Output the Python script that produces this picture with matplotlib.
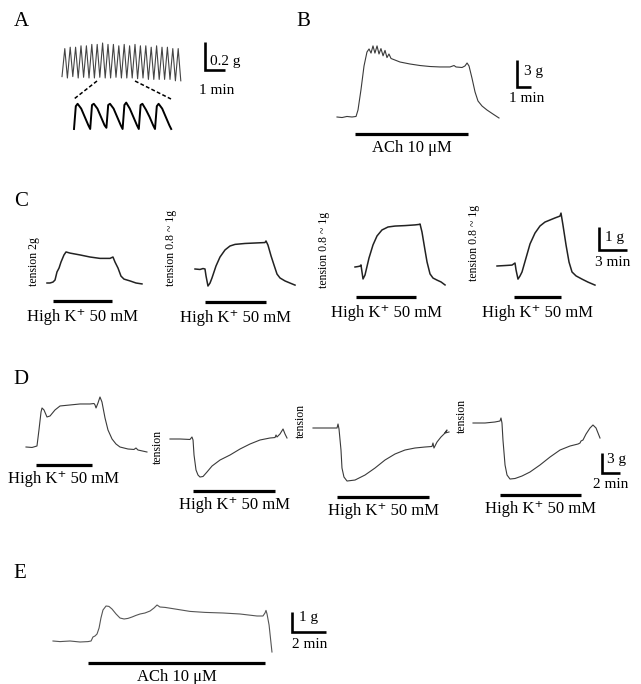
import matplotlib
matplotlib.use('Agg')
import matplotlib.pyplot as plt

plt.rcParams['font.family'] = ['Liberation Serif', 'DejaVu Serif']

# ---- trace data: time (min) and tension (g, relative to baseline) ----
# A: spontaneous contractions, full record and expanded view
a_top_t = [0, 0.14, 0.27, 0.41, 0.54, 0.68, 0.81, 0.95, 1.08, 1.22, 1.35, 1.49, 1.62, 1.76,
           1.89, 2.03, 2.16, 2.30, 2.43, 2.57, 2.70, 2.84, 2.97, 3.11, 3.24, 3.38, 3.51, 3.65,
           3.78, 3.92, 4.05, 4.19, 4.32, 4.46, 4.59, 4.73, 4.86, 5.00, 5.13, 5.27, 5.40, 5.54,
           5.67, 5.81, 5.94]
a_top_g = [0.01, 0.21, 0.0, 0.22, 0.01, 0.22, 0.0, 0.23, 0.005, 0.23, 0.0, 0.24, 0.0, 0.24,
           0.005, 0.25, 0.0, 0.24, 0.0, 0.24, 0.005, 0.23, 0.0, 0.24, 0.0, 0.23, 0.0, 0.24,
           -0.005, 0.23, 0.0, 0.23, -0.01, 0.22, -0.01, 0.23, -0.01, 0.22, -0.01, 0.22,
           -0.01, 0.21, -0.02, 0.21, -0.02]
a_zoom_t = [0.00, 0.03, 0.06, 0.12, 0.18, 0.24, 0.27, 0.30, 0.33, 0.39, 0.45, 0.51,
            0.54, 0.57, 0.60, 0.66, 0.72, 0.78, 0.81, 0.84, 0.87, 0.93, 0.99, 1.05,
            1.08, 1.11, 1.14, 1.20, 1.26, 1.32, 1.35, 1.38, 1.41, 1.47, 1.53, 1.59, 1.62]
a_zoom_g = [0.00, 0.19, 0.21, 0.17, 0.10, 0.03, 0.00, 0.20, 0.21, 0.17, 0.10, 0.03,
            0.01, 0.20, 0.21, 0.17, 0.10, 0.03, 0.00, 0.20, 0.22, 0.17, 0.10, 0.03,
            0.00, 0.20, 0.21, 0.16, 0.10, 0.03, 0.00, 0.19, 0.21, 0.17, 0.10, 0.03, 0.00]

# B: ACh 10 uM
b_t = [0, 0.36, 0.71, 1.07, 1.36, 1.5, 1.71, 1.93, 2.14, 2.29, 2.43, 2.57, 2.71, 2.86, 3.0,
       3.14, 3.29, 3.43, 3.57, 3.71, 3.86, 4.14, 4.5, 5.21, 5.93, 6.64, 7.36, 8.07, 8.36,
       8.5, 8.93, 9.14, 9.29, 9.43, 9.64, 9.86, 10.07, 10.36, 10.71, 11.14, 11.57]
b_g = [0, -0.06, 0.06, 0, 0.06, 0.78, 3.0, 5.67, 7.22, 7.56, 7.1, 7.9, 7.1, 7.9, 7.0,
       7.6, 6.8, 7.4, 6.6, 7.0, 6.5, 6.33, 6.11, 5.89, 5.72, 5.61, 5.56, 5.56, 5.72,
       5.56, 5.5, 5.67, 6.0, 5.67, 4.33, 2.78, 1.78, 1.22, 0.78, 0.33, -0.11]
b_drug = (1.29, 9.36)

# C: high K+ 50 mM, four preparations
c1_t = [0, 0.32, 0.64, 0.86, 1.07, 1.29, 1.50, 1.82, 2.04, 2.47, 3.54, 4.61, 5.68, 6.75,
        7.07, 7.29, 7.61, 7.93, 8.25, 8.90, 9.54, 10.18]
c1_g = [0, 0, 0.04, 0.13, 0.48, 0.65, 0.91, 1.22, 1.35, 1.30, 1.22, 1.13, 1.07, 1.07,
        1.13, 0.91, 0.65, 0.30, 0.17, 0.09, 0, -0.04]
c2_t = [0, 0.54, 0.86, 1.07, 1.18, 1.39, 1.61, 1.82, 2.25, 2.68, 3.22, 3.75, 4.29, 5.36,
        6.43, 7.50, 7.61, 7.82, 8.15, 8.47, 8.79, 9.11, 9.65, 10.18, 10.72]
c2_g = [0, -0.02, 0.02, 0, -0.30, -0.74, -0.61, -0.39, 0.13, 0.52, 0.83, 1.0, 1.07, 1.11,
        1.13, 1.15, 1.22, 1.04, 0.57, 0.17, -0.22, -0.39, -0.52, -0.61, -0.70]
c3_t = [0, 0.32, 0.54, 0.64, 0.75, 0.86, 1.07, 1.50, 1.93, 2.36, 2.89, 3.54, 4.29, 5.36,
        6.43, 6.86, 6.97, 7.18, 7.50, 7.72, 8.04, 8.36, 8.79, 9.22, 9.65]
c3_g = [0, 0.02, 0.04, 0.09, -0.22, -0.52, -0.35, 0.39, 0.96, 1.35, 1.61, 1.74, 1.78, 1.80,
        1.83, 1.85, 1.87, 1.52, 0.74, 0.22, -0.30, -0.48, -0.57, -0.65, -0.78]
c4_t = [0, 0.86, 1.61, 1.93, 2.04, 2.25, 2.47, 2.68, 3.11, 3.54, 4.07, 4.61, 5.14, 5.68,
        6.22, 6.75, 6.86, 7.07, 7.40, 7.72, 8.04, 8.47, 9.11, 9.75, 10.50]
c4_g = [0, 0.02, 0.04, 0.13, -0.17, -0.57, -0.43, -0.26, 0.35, 0.96, 1.43, 1.74, 1.91, 2.0,
        2.09, 2.17, 2.30, 1.78, 0.91, 0.17, -0.26, -0.43, -0.57, -0.70, -0.83]
c_drug = [(0.64, 6.97), (1.07, 7.61), (0.11, 6.54), (1.82, 6.86)]
c_labels = ['tension 2g', 'tension 0.8 ~ 1g', 'tension 0.8 ~ 1g', 'tension 0.8 ~ 1g']

# D: high K+ 50 mM, contraction then relaxation
d1_t = [0, 0.67, 1.22, 1.44, 1.67, 1.78, 2.0, 2.33, 2.67, 3.22, 3.78, 4.89, 6.0, 7.11, 7.56,
        7.67, 7.78, 8.0, 8.22, 8.44, 8.78, 9.11, 9.56, 10.0, 10.44, 11.33, 12.0, 12.22,
        12.44, 13.44]
d1_g = [0, -0.07, 0.15, 2.55, 5.25, 5.85, 5.55, 4.5, 4.65, 5.55, 6.15, 6.3, 6.45, 6.45,
        6.52, 6.3, 5.85, 6.6, 7.5, 6.75, 4.35, 2.55, 1.2, 0.45, 0, -0.3, -0.37, -0.15,
        -0.45, -0.75]
d2_t = [0, 1.11, 2.22, 2.44, 2.56, 2.67, 2.89, 3.11, 3.33, 3.67, 4.11, 4.67, 5.56, 6.67,
        7.78, 8.89, 10.0, 11.11, 11.67, 11.78, 11.89, 12.22, 12.56, 12.78, 13.0]
d2_g = [0, 0, -0.07, 0.3, -0.15, -2.4, -4.65, -5.4, -5.7, -5.62, -4.95, -4.05, -3.15, -2.4,
        -1.5, -0.75, -0.15, 0.15, 0.22, 0.6, 0.3, 0.75, 1.5, 0.75, 0.15]
d3_t = [0, 1.33, 2.67, 2.78, 2.89, 3.11, 3.22, 3.44, 3.78, 4.67, 5.78, 6.89, 8.0, 9.11,
        10.22, 11.33, 12.44, 13.22, 13.33, 13.44, 13.78, 14.22, 14.56, 14.89, 14.67, 15.11]
d3_g = [0, 0, 0, 0.6, -0.15, -3.3, -6.0, -7.35, -7.95, -7.8, -7.05, -6.0, -4.8, -3.9, -3.3,
        -3.0, -2.85, -2.77, -2.25, -3.0, -2.1, -1.35, -0.9, -0.3, -0.75, -0.6]
d4_t = [0, 1.33, 2.44, 3.0, 3.11, 3.22, 3.33, 3.56, 3.78, 4.11, 4.67, 5.44, 6.33, 7.44,
        8.56, 9.67, 10.78, 11.67, 11.89, 12.0, 12.22, 12.56, 13.0, 13.33, 13.67, 13.89, 14.11]
d4_g = [0, 0, 0.15, 0.3, 0.75, 0, -2.55, -6.3, -7.8, -8.4, -8.32, -7.95, -7.35, -6.3, -5.1,
        -4.05, -3.45, -3.15, -3.0, -2.7, -2.55, -1.65, -0.75, -0.3, -0.75, -1.5, -2.25]
d_drug = [(1.11, 7.33), (2.56, 11.67), (2.67, 12.89), (3.0, 12.0)]

# E: ACh 10 uM
e_t = [0, 0.41, 1.0, 1.59, 2.06, 2.24, 2.35, 2.47, 2.59, 2.71, 2.82, 2.94, 3.12, 3.29, 3.47,
       3.71, 3.94, 4.18, 4.41, 4.65, 4.88, 5.12, 5.41, 5.71, 5.94, 6.12, 6.29, 6.59, 7.18,
       8.06, 8.94, 10.0, 11.0, 12.0, 12.35, 12.47, 12.53, 12.59, 12.71, 12.88]
e_g = [0, -0.03, 0, -0.05, -0.03, 0, 0.2, 0.25, 0.35, 0.65, 1.15, 1.55, 1.75, 1.73, 1.6,
       1.35, 1.15, 1.1, 1.13, 1.2, 1.28, 1.35, 1.4, 1.5, 1.65, 1.8, 1.7, 1.68, 1.6, 1.48,
       1.43, 1.4, 1.35, 1.25, 1.25, 1.4, 1.53, 1.35, 0.8, -0.55]
e_drug = (2.06, 12.47)

HIGH_K = 'High K\u207a 50 mM'
ACH = 'ACh 10 \u03bcM'

W, H = 641, 684
fig = plt.figure(figsize=(W / 100, H / 100), dpi=100)

# overlay in pixel units for letters and labels
ov = fig.add_axes([0, 0, 1, 1])
ov.set_xlim(0, W)
ov.set_ylim(H, 0)
ov.axis('off')


def trace_axes(ox, oy, ppm, ppg):
    # axes over the whole figure, (0 min, 0 g) sits at pixel (ox, oy)
    ax = fig.add_axes([0, 0, 1, 1])
    ax.set_xlim(-ox / ppm, (W - ox) / ppm)
    ax.set_ylim(-(H - oy) / ppg, oy / ppg)
    ax.axis('off')
    return ax


def to_data(ax, x, y):
    return ax.transData.inverted().transform(ov.transData.transform((x, y)))


def drug_bar(ax, t0, t1, y_px, label, dy=16):
    g = to_data(ax, 0, y_px)[1]
    gt = to_data(ax, 0, y_px + dy)[1]
    ax.plot([t0, t1], [g, g], color='black', lw=2.3, solid_capstyle='butt')
    ax.text((t0 + t1) / 2, gt, label, ha='center', va='center', fontsize=12)


def scale_bar(ax, x_px, y_px, t_len, g_len):
    t, g = to_data(ax, x_px, y_px)
    ax.plot([t, t, t + t_len], [g + g_len, g, g], color='black', lw=1.9,
            solid_joinstyle='miter', solid_capstyle='butt')


trace_col = '#3a3a3a'

# panel letters
for letter, x, y in [('A', 21, 22), ('B', 303, 22), ('C', 21, 201), ('D', 21, 379), ('E', 20, 573)]:
    ov.text(x, y, letter, fontsize=15, ha='center', va='center')

# ---- A ----
ax = trace_axes(62, 78, 20, 140)
ax.plot(a_top_t, a_top_g, color='#444444', lw=0.8)
scale_bar(ax, 205, 70, 1, 0.2)
ax = trace_axes(74, 129, 60, 120)
ax.plot(a_zoom_t, a_zoom_g, color='black', lw=1.4)
ov.plot([97, 74], [81, 99], color='black', lw=1.1, ls=(0, (2.5, 1.5)))
ov.plot([135, 171], [81, 99], color='black', lw=1.1, ls=(0, (2.5, 1.5)))
ov.text(210, 61, '0.2 g', fontsize=11, va='center')
ov.text(217, 91, '1 min', fontsize=11, ha='center', va='center')

# ---- B ----
ax = trace_axes(337, 117, 14, 9)
ax.plot(b_t, b_g, color=trace_col, lw=0.8)
drug_bar(ax, b_drug[0], b_drug[1], 134, ACH, dy=14)
scale_bar(ax, 517, 87, 1, 3)
ov.text(524, 71, '3 g', fontsize=11, va='center')
ov.text(527, 99, '1 min', fontsize=11, ha='center', va='center')

# ---- C ----
c_traces = [(c1_t, c1_g), (c2_t, c2_g), (c3_t, c3_g), (c4_t, c4_g)]
c_origin = [(47, 283), (195, 269), (355, 267), (497, 266)]
c_bar_y = [301, 302, 297, 297]
c_lab_pos = [(34, 262), (171, 248), (324, 250), (474, 243)]
for (tt, gg), (ox, oy), by, lab, (lx, ly), (t0, t1) in zip(
        c_traces, c_origin, c_bar_y, c_labels, c_lab_pos, c_drug):
    ax = trace_axes(ox, oy, 9.33, 23)
    ax.plot(tt, gg, color='#222222', lw=1.1)
    drug_bar(ax, t0, t1, by, HIGH_K)
    ov.text(lx, ly, lab, fontsize=8.5, rotation=90, ha='center', va='center')
scale_bar(ax, 599, 250, 3, 1)
ov.text(605, 237, '1 g', fontsize=11, va='center')
ov.text(613, 262, '3 min', fontsize=11, ha='center', va='center')

# ---- D ----
d_traces = [(d1_t, d1_g), (d2_t, d2_g), (d3_t, d3_g), (d4_t, d4_g)]
d_origin = [(26, 447), (170, 439), (313, 428), (473, 423)]
d_bar_y = [465, 491, 497, 495]
for (tt, gg), (ox, oy), by, (t0, t1) in zip(d_traces, d_origin, d_bar_y, d_drug):
    ax = trace_axes(ox, oy, 9, 6.67)
    ax.plot(tt, gg, color=trace_col, lw=0.8)
    drug_bar(ax, t0, t1, by, HIGH_K, dy=14)
for lx, ly in [(158, 447), (301, 421), (462, 416)]:
    ov.text(lx, ly, 'tension', fontsize=8.5, rotation=90, ha='center', va='center')
scale_bar(ax, 602, 473, 2, 3)
ov.text(607, 460, '3 g', fontsize=11, va='center')
ov.text(611, 484, '2 min', fontsize=11, ha='center', va='center')

# ---- E ----
ax = trace_axes(53, 641, 17, 20)
ax.plot(e_t, e_g, color='#555555', lw=0.8)
drug_bar(ax, e_drug[0], e_drug[1], 663, ACH, dy=14)
scale_bar(ax, 292, 632, 2, 1)
ov.text(299, 618, '1 g', fontsize=11, va='center')
ov.text(310, 645, '2 min', fontsize=11, ha='center', va='center')

fig.savefig('out.png', dpi=100)
